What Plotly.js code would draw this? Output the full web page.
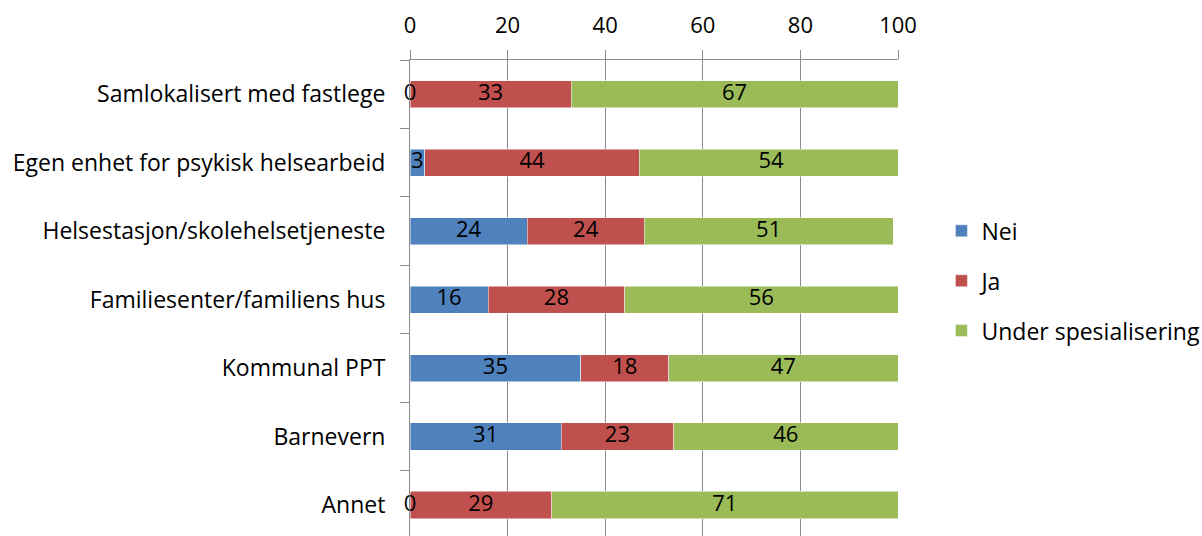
<!DOCTYPE html>
<html>
<head>
<meta charset="utf-8">
<script src="https://cdn.plot.ly/plotly-3.0.1.min.js"></script>
<style>
  html, body { margin: 0; padding: 0; background: #fff; }
  #chart { width: 1202px; height: 536px; }
</style>
</head>
<body>
<div id="chart"></div>
<script>
// Tilbud og organisering – andel i prosent
const categories = [
  "Samlokalisert med fastlege",
  "Egen enhet for psykisk helsearbeid",
  "Helsestasjon/skolehelsetjeneste",
  "Familiesenter/familiens hus",
  "Kommunal PPT",
  "Barnevern",
  "Annet"
];
const nei = [0, 3, 24, 16, 35, 31, 0];
const ja = [33, 44, 24, 28, 18, 23, 29];
const underSpes = [67, 54, 51, 56, 47, 46, 71];
const xTicks = [0, 20, 40, 60, 80, 100];

const seriesNames = ["Nei", "Ja", "Under spesialisering"];
const seriesColors = ["#4F81BD", "#C0504D", "#9BBB59"];
const seriesValues = [nei, ja, underSpes];

const FONT = "'Open Sans', Lato, sans-serif";
const FS = 22;      // numbers
const FS_TXT = 23;  // category names and legend
const GRID = "#8c8c8c";

const traces = [];

// Stacked bars
seriesValues.forEach((vals, i) => {
  traces.push({
    type: "bar",
    orientation: "h",
    name: seriesNames[i],
    y: categories,
    x: vals,
    width: 0.4,
    marker: { color: seriesColors[i], line: { color: "rgba(255,255,255,0.6)", width: 0.8 } },
    legendgroup: seriesNames[i],
    hoverinfo: "x+name"
  });
});

// Value labels, centred in each segment (zero segments sit on the axis)
seriesValues.forEach((vals, i) => {
  const mids = vals.map((v, k) => {
    let base = 0;
    for (let j = 0; j < i; j++) base += seriesValues[j][k];
    return base + v / 2;
  });
  traces.push({
    type: "scatter",
    mode: "text",
    x: mids,
    y: categories,
    text: vals.map(String),
    textposition: "middle center",
    textfont: { family: FONT, size: FS, color: "#000" },
    cliponaxis: false,
    showlegend: false,
    hoverinfo: "skip"
  });
});

const layout = {
  width: 1202,
  height: 536,
  margin: { l: 410, r: 304, t: 60, b: 0, pad: 0, autoexpand: false },
  paper_bgcolor: "#fff",
  plot_bgcolor: "#fff",
  barmode: "stack",
  font: { family: FONT, size: FS, color: "#000" },
  xaxis: {
    side: "top",
    range: [0, 100],
    tickvals: xTicks,
    ticktext: xTicks.map(String),
    ticks: "outside",
    ticklen: 9,
    tickcolor: GRID,
    tickwidth: 1,
    ticklabelstandoff: 8,
    showline: true,
    linecolor: GRID,
    linewidth: 1,
    showgrid: true,
    gridcolor: GRID,
    gridwidth: 1,
    zeroline: false,
    automargin: false,
    tickfont: { family: FONT, size: FS, color: "#000" },
    fixedrange: true
  },
  yaxis: {
    type: "category",
    range: [6.45, -0.5],
    tickson: "boundaries",
    ticks: "outside",
    ticklen: 9,
    tickcolor: GRID,
    tickwidth: 1,
    ticklabelstandoff: 19,
    showline: true,
    linecolor: GRID,
    linewidth: 1,
    showgrid: false,
    zeroline: false,
    automargin: false,
    tickfont: { family: FONT, size: FS_TXT, color: "#000" },
    fixedrange: true
  },
  legend: {
    x: 1.089,
    xanchor: "left",
    y: 0.536,
    yanchor: "middle",
    traceorder: "grouped",
    tracegroupgap: 17,
    font: { family: FONT, size: FS_TXT, color: "#000" },
    itemwidth: 30,
    bgcolor: "rgba(0,0,0,0)"
  },
  showlegend: true
};

Plotly.newPlot("chart", traces, layout, { displayModeBar: false, staticPlot: true });
</script>
</body>
</html>
